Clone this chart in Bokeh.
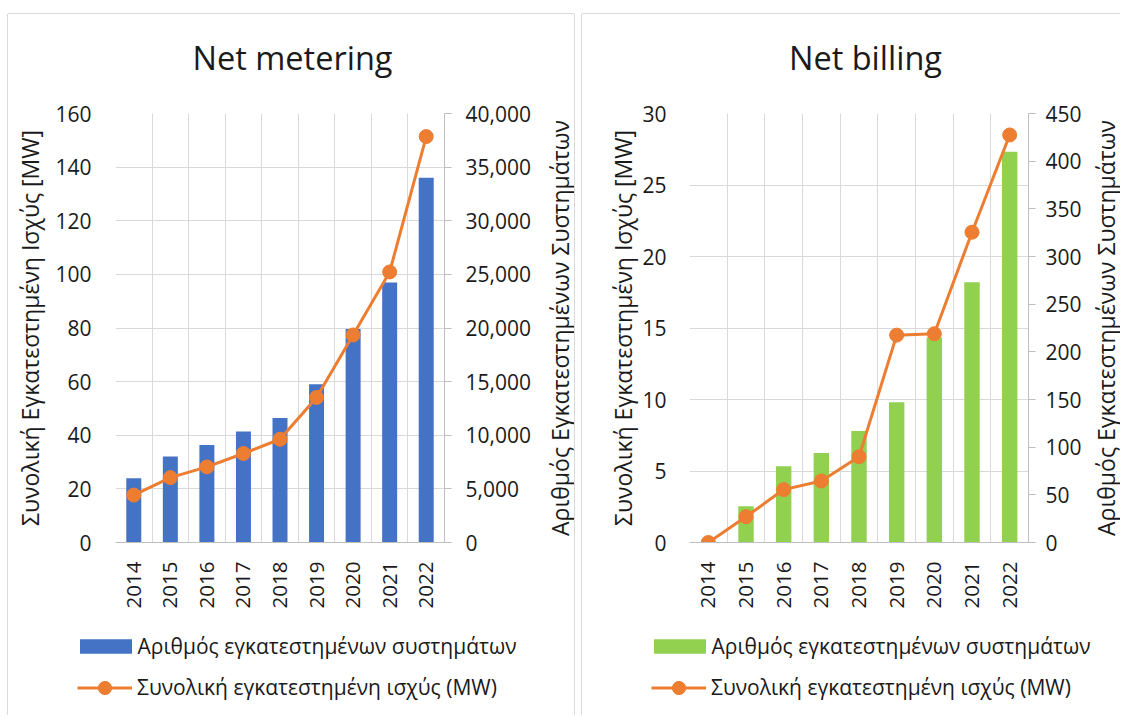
import math
from bokeh.plotting import figure
from bokeh.models import (Range1d, LinearAxis, FixedTicker, NumeralTickFormatter,
                          Legend, LegendItem, Label)
from bokeh.layouts import row, column
from bokeh.embed import file_html
from bokeh.resources import INLINE

# ---------------- data ----------------
years = ["2014", "2015", "2016", "2017", "2018", "2019", "2020", "2021", "2022"]

nm_systems = [5980, 8030, 9100, 10350, 11600, 14750, 19900, 24250, 34000]
nm_mw = [17.7, 24.2, 28.2, 33.2, 38.5, 54.1, 77.4, 100.9, 151.4]

nb_systems = [0, 38, 80, 94, 117, 147, 215, 273, 410]
nb_mw = [0.0, 1.8, 3.7, 4.3, 6.0, 14.5, 14.6, 21.7, 28.5]

titles = ["Net metering", "Net billing"]
left_label = "Συνολική Εγκατεστημένη Ισχύς [MW]"
right_label = "Αριθμός Εγκατεστημένων Συστημάτων"
bar_legend = "Αριθμός εγκατεστημένων συστημάτων"
line_legend = "Συνολική εγκατεστημένη ισχύς (MW)"

# ---------------- style ----------------
FONT = "Open Sans"
TXT = "#1a1a1a"
GRID = "#d9d9d9"
AXIS = "#bfbfbf"
ORANGE = "#ED7D31"
BLUE = "#4472C4"
GREEN = "#92D050"
TITLE_H = 84
MAIN_H = 514
BT, BB = 15, 70
LAB_W = 30
LEG_H = 103


def blank(width, height, x_range, y_range):
    f = figure(width=width, height=height, output_backend="svg", toolbar_location=None,
               x_axis_type=None, y_axis_type=None, min_border=0,
               x_range=x_range, y_range=y_range)
    f.outline_line_color = None
    f.background_fill_color = "white"
    f.border_fill_color = "white"
    return f


def style_legend(lg, glyph_w, glyph_h, standoff):
    lg.label_text_font = FONT
    lg.label_text_font_size = "21px"
    lg.label_text_color = TXT
    lg.glyph_width = glyph_w
    lg.glyph_height = glyph_h
    lg.label_height = glyph_h
    lg.label_standoff = standoff
    lg.padding = 0
    lg.margin = 0
    lg.border_line_color = None
    lg.background_fill_alpha = 0


def make_panel(title, systems, mw, bar_color, mw_max, mw_step, cnt_max, cnt_step,
               main_w, frame_w, title_x, left_standoff, left_label_standoff,
               right_standoff, shadow):
    x = list(range(len(years)))
    panel_w = main_w + LAB_W

    # title strip
    tf = blank(panel_w, TITLE_H, Range1d(0, 1), Range1d(0, 1))
    tf.add_layout(Label(x=title_x, y=TITLE_H - 43, x_units="screen", y_units="screen",
                        text=title, text_align="center", text_baseline="middle",
                        text_font=FONT, text_font_size="32.5px", text_color=TXT))

    p = figure(width=main_w, height=MAIN_H, output_backend="svg", toolbar_location=None,
               x_range=Range1d(-0.5, len(years) - 0.5), y_range=Range1d(0, mw_max),
               min_border_left=107, min_border_right=main_w - 107 - frame_w,
               min_border_top=BT, min_border_bottom=BB)
    p.outline_line_color = None
    p.background_fill_color = "white"
    p.border_fill_color = "white"

    # grids
    mw_ticks = list(range(0, mw_max + 1, mw_step))
    p.ygrid.ticker = FixedTicker(ticks=mw_ticks)
    p.ygrid.grid_line_color = GRID
    p.xgrid.ticker = FixedTicker(ticks=[i - 0.5 for i in range(len(years) + 1)])
    p.xgrid.grid_line_color = GRID

    # left axis
    ya = p.yaxis[0]
    ya.ticker = FixedTicker(ticks=mw_ticks)
    ya.axis_line_color = None
    ya.major_tick_line_color = None
    ya.minor_tick_line_color = None
    ya.major_label_standoff = left_standoff
    ya.major_label_text_font = FONT
    ya.major_label_text_font_size = "21px"
    ya.major_label_text_color = TXT
    ya.axis_label = left_label
    ya.axis_label_text_font = FONT
    ya.axis_label_text_font_size = "23px"
    ya.axis_label_text_font_style = "normal"
    ya.axis_label_text_color = TXT
    ya.axis_label_standoff = left_label_standoff

    # x axis
    xa = p.xaxis[0]
    xa.ticker = FixedTicker(ticks=x)
    xa.major_label_overrides = {i: y for i, y in zip(x, years)}
    xa.major_label_orientation = math.pi / 2
    xa.axis_line_color = AXIS
    xa.major_tick_line_color = None
    xa.minor_tick_line_color = None
    xa.major_label_standoff = 13
    xa.major_label_text_font = FONT
    xa.major_label_text_font_size = "20.5px"
    xa.major_label_text_color = TXT

    # right axis
    p.extra_y_ranges = {"count": Range1d(0, cnt_max)}
    ra = LinearAxis(y_range_name="count",
                    ticker=FixedTicker(ticks=list(range(0, cnt_max + 1, cnt_step))),
                    formatter=NumeralTickFormatter(format="0,0"))
    ra.axis_line_color = AXIS
    ra.major_tick_line_color = AXIS
    ra.major_tick_in = 0
    ra.major_tick_out = 7
    ra.minor_tick_line_color = None
    ra.major_label_standoff = right_standoff
    ra.major_label_text_font = FONT
    ra.major_label_text_font_size = "21px"
    ra.major_label_text_color = TXT
    p.add_layout(ra, "right")

    # data
    p.vbar(x=x, top=systems, width=0.41, fill_color=bar_color,
           line_color=None, y_range_name="count")
    p.line(x, mw, line_color=ORANGE, line_width=3)
    p.scatter(x, mw, size=14, fill_color=ORANGE, line_color=ORANGE)

    # right axis title (reads bottom-to-top), centred on the plot frame
    lab = blank(LAB_W, MAIN_H, Range1d(0, 1), Range1d(0, 1))
    lab.add_layout(Label(x=0.5, y=0.5, text=right_label, angle=math.pi / 2,
                         text_align="center", text_baseline="middle", text_font=FONT,
                         text_font_size="23px", text_color=TXT))

    # legend strip: legend glyphs come from the series, drawn outside the visible range
    leg = blank(panel_w, LEG_H, Range1d(-20, -10), Range1d(-2 * cnt_max, -cnt_max))
    lb = leg.vbar(x=x, top=systems, width=0.4, fill_color=bar_color, line_color=None)
    ll = leg.line(x=x, y=mw, line_color=ORANGE, line_width=3)
    ls = leg.scatter(x=x, y=mw, size=14, fill_color=ORANGE, line_color=ORANGE)
    leg_a = Legend(items=[LegendItem(label=bar_legend, renderers=[lb])],
                   location=(64.5, 55.5), orientation="vertical")
    style_legend(leg_a, 65, 18, 0)
    leg_b = Legend(items=[LegendItem(label=line_legend, renderers=[ll, ls])],
                   location=(69, 11.5), orientation="vertical")
    style_legend(leg_b, 55, 33, 5)
    leg.add_layout(leg_a)
    leg.add_layout(leg_b)

    return column(tf, row(p, lab), leg, styles={"box-shadow": shadow})


panel1 = make_panel(titles[0], nm_systems, nm_mw, BLUE, 160, 20, 40000, 5000,
                    main_w=536, frame_w=329, title_x=284,
                    left_standoff=18, left_label_standoff=6, right_standoff=14,
                    shadow="-1px 0 0 0 #d9d9d9, 1px 0 0 0 #d9d9d9, 0 -1px 0 0 #d9d9d9")
panel2 = make_panel(titles[1], nb_systems, nb_mw, GREEN, 30, 5, 450, 50,
                    main_w=508, frame_w=339, title_x=283,
                    left_standoff=17, left_label_standoff=0, right_standoff=10,
                    shadow="-1px 0 0 0 #d9d9d9, 0 -1px 0 0 #d9d9d9")

layout = row(panel1, panel2, spacing=8, margin=(14, 0, 0, 8))

open("out.html", "w").write(file_html(layout, INLINE))
